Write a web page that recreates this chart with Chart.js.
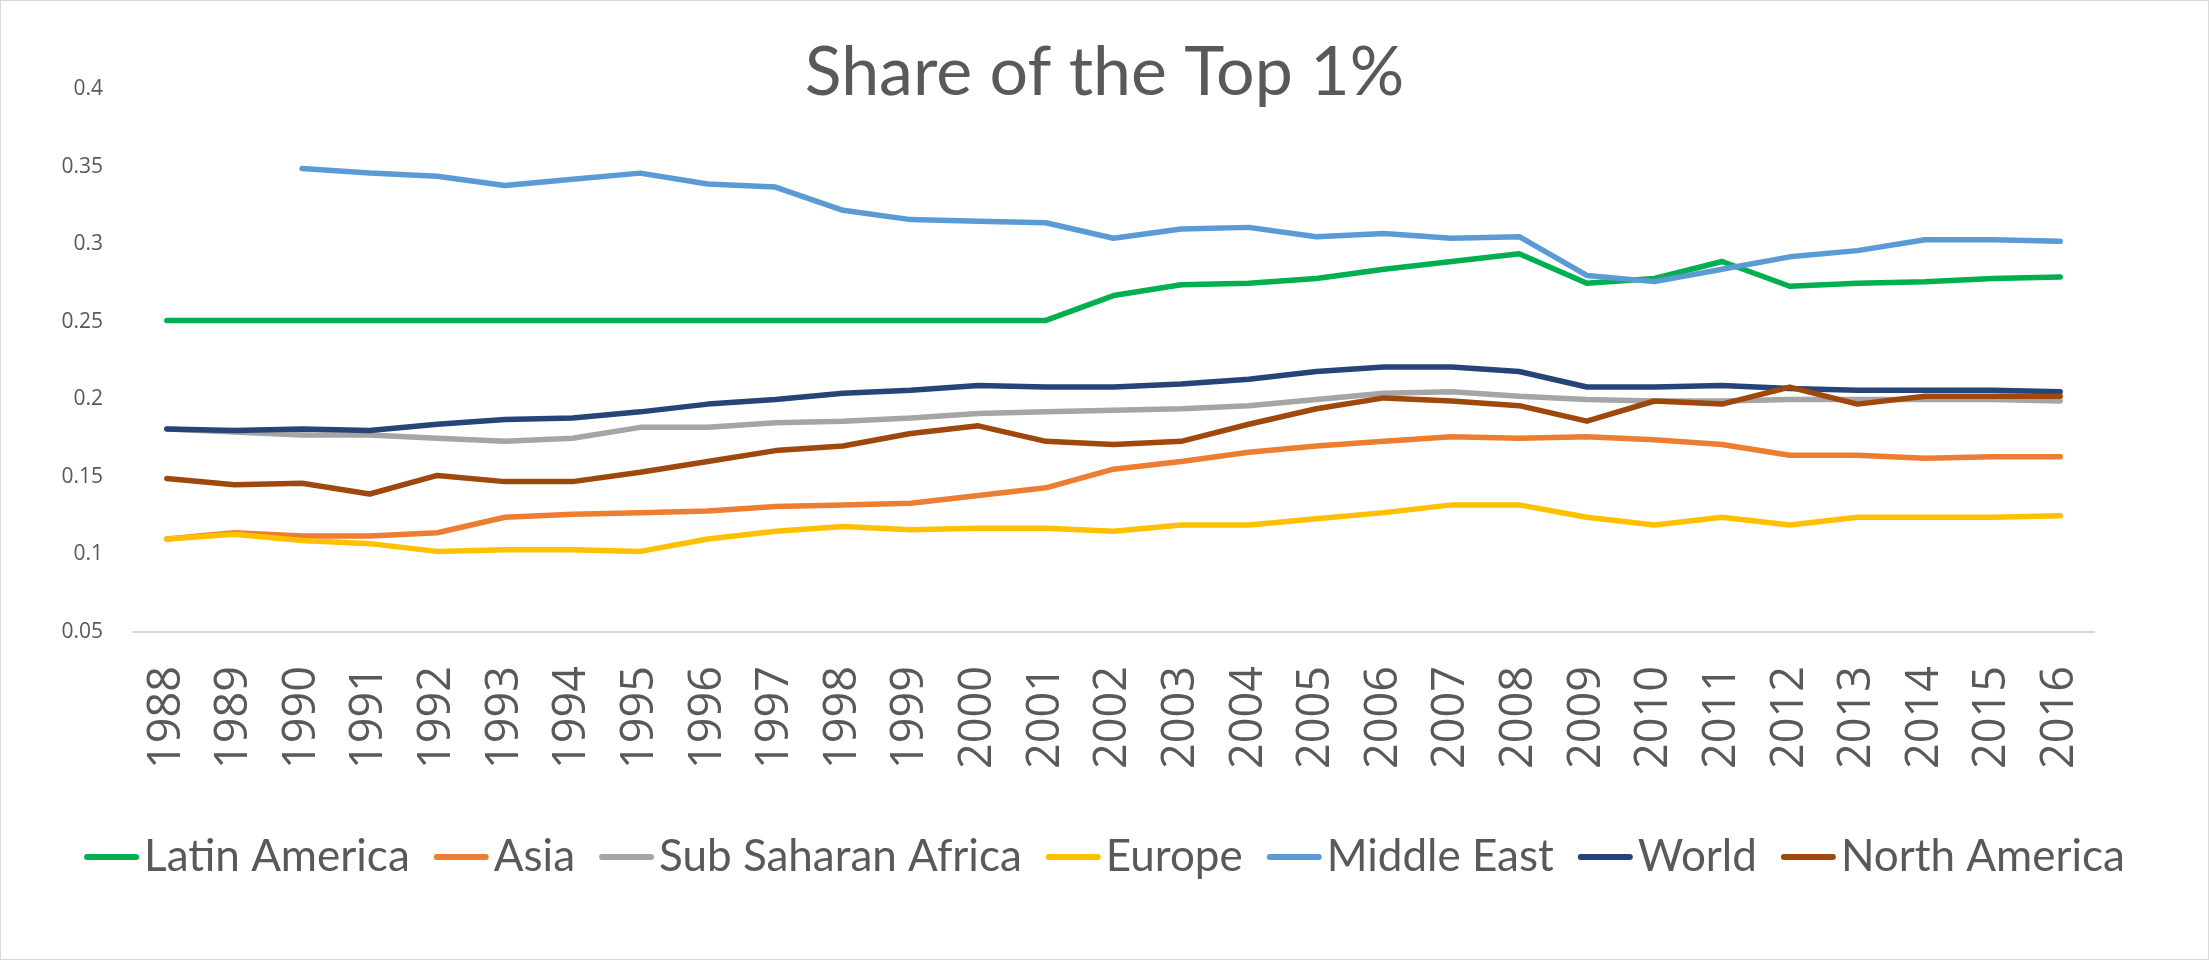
<!DOCTYPE html>
<html>
<head>
<meta charset="utf-8">
<script src="https://cdn.jsdelivr.net/npm/chart.js@4/dist/chart.umd.min.js"></script>
<style>
  html, body { margin: 0; padding: 0; background: #fff; }
  #wrap { position: absolute; left: 0; top: 0; width: 2207px; height: 958px; border: 1px solid #d9d9d9; }
</style>
</head>
<body>
<div id="wrap"><canvas id="chart"></canvas></div>
<script>
const years = ["1988","1989","1990","1991","1992","1993","1994","1995","1996","1997","1998","1999","2000","2001","2002","2003","2004","2005","2006","2007","2008","2009","2010","2011","2012","2013","2014","2015","2016"];

const latinAmerica = [0.251,0.251,0.251,0.251,0.251,0.251,0.251,0.251,0.251,0.251,0.251,0.251,0.251,0.251,0.267,0.274,0.275,0.278,0.284,0.289,0.294,0.275,0.278,0.289,0.273,0.275,0.276,0.278,0.279];
const asia = [0.110,0.114,0.112,0.112,0.114,0.124,0.126,0.127,0.128,0.131,0.132,0.133,0.138,0.143,0.155,0.160,0.166,0.170,0.173,0.176,0.175,0.176,0.174,0.171,0.164,0.164,0.162,0.163,0.163];
const subSaharanAfrica = [0.181,0.179,0.177,0.177,0.175,0.173,0.175,0.182,0.182,0.185,0.186,0.188,0.191,0.192,0.193,0.194,0.196,0.200,0.204,0.205,0.202,0.200,0.199,0.199,0.200,0.200,0.200,0.200,0.199];
const europe = [0.110,0.113,0.109,0.107,0.102,0.103,0.103,0.102,0.110,0.115,0.118,0.116,0.117,0.117,0.115,0.119,0.119,0.123,0.127,0.132,0.132,0.124,0.119,0.124,0.119,0.124,0.124,0.124,0.125];
const middleEast = [null,null,0.349,0.346,0.344,0.338,0.342,0.346,0.339,0.337,0.322,0.316,0.315,0.314,0.304,0.310,0.311,0.305,0.307,0.304,0.305,0.280,0.276,0.284,0.292,0.296,0.303,0.303,0.302];
const world = [0.181,0.180,0.181,0.180,0.184,0.187,0.188,0.192,0.197,0.200,0.204,0.206,0.209,0.208,0.208,0.210,0.213,0.218,0.221,0.221,0.218,0.208,0.208,0.209,0.207,0.206,0.206,0.206,0.205];
const northAmerica = [0.149,0.145,0.146,0.139,0.151,0.147,0.147,0.153,0.160,0.167,0.170,0.178,0.183,0.173,0.171,0.173,0.184,0.194,0.201,0.199,0.196,0.186,0.199,0.197,0.208,0.197,0.202,0.202,0.202];

const seriesNames = ["Latin America","Asia","Sub Saharan Africa","Europe","Middle East","World","North America"];
const seriesData = [latinAmerica, asia, subSaharanAfrica, europe, middleEast, world, northAmerica];
const seriesColors = ["#00b050","#ed7d31","#a5a5a5","#ffc000","#5b9bd5","#264478","#9e480e"];

const textColor = "#595959";

// excel style legend keys: a short line just left of the text
const legendLines = {
    id: "legendLines",
    afterDraw(chart) {
        const legend = chart.legend;
        const ctx = chart.ctx;
        ctx.save();
        ctx.lineWidth = 6;
        ctx.lineCap = "round";
        legend.legendItems.forEach((item, i) => {
            const box = legend.legendHitBoxes[i];
            const y = box.top + box.height / 2;
            ctx.strokeStyle = seriesColors[item.datasetIndex];
            ctx.beginPath();
            ctx.moveTo(box.left + 3, y);
            ctx.lineTo(box.left + 52, y);
            ctx.stroke();
        });
        ctx.restore();
    },
};

new Chart("chart", {
    type: "line",
    data: {
        labels: years,
        datasets: seriesNames.map((name, i) => ({
            label: name,
            data: seriesData[i],
            borderColor: seriesColors[i],
            backgroundColor: seriesColors[i],
            borderWidth: 5.5,
            borderCapStyle: "round",
            borderJoinStyle: "round",
            fill: false,
            tension: 0,
            pointRadius: 0,
            // later series drawn on top, like excel
            order: seriesNames.length - 1 - i,
        })),
    },
    options: {
        responsive: true,
        maintainAspectRatio: false,
        animation: false,
        layout: { padding: { top: 0, left: 0, right: 0, bottom: 70 } },
        plugins: {
            title: {
                display: true,
                text: "Share of the Top 1%",
                color: textColor,
                font: { family: "Lato", size: 68, weight: "normal", lineHeight: 0.55 },
                padding: { top: 53, bottom: -2 },
            },
            legend: {
                display: true,
                position: "bottom",
                labels: {
                    color: textColor,
                    font: { family: "Lato", size: 44 },
                    boxWidth: 38,
                    boxHeight: 6,
                    padding: 24,
                    sort: (a, b) => a.datasetIndex - b.datasetIndex,
                    generateLabels: (chart) =>
                        Chart.defaults.plugins.legend.labels.generateLabels(chart).map((l) => ({
                            ...l, fillStyle: "rgba(0,0,0,0)", strokeStyle: "rgba(0,0,0,0)", lineWidth: 0,
                        })),
                },
            },
            tooltip: { enabled: false },
        },
        scales: {
            x: {
                offset: true,
                grid: { display: false, offset: true },
                border: { display: true, color: "#d9d9d9", width: 2 },
                ticks: {
                    color: textColor,
                    font: { family: "Open Sans", size: 45 },
                    minRotation: 90,
                    maxRotation: 90,
                    autoSkip: false,
                    padding: 26,
                },
                afterFit: (scale) => { scale.height = 179; },
            },
            y: {
                min: 0.05,
                max: 0.4,
                grid: { display: false },
                border: { display: false },
                ticks: {
                    stepSize: 0.05,
                    color: textColor,
                    font: { family: "Open Sans", size: 21 },
                    padding: 22,
                    callback: (v) => Math.round(v * 100) / 100,
                },
                afterFit: (scale) => { scale.width = 132; },
            },
            yRight: {
                position: "right",
                display: true,
                grid: { display: false },
                border: { display: false },
                ticks: { display: false },
                afterFit: (scale) => { scale.width = 114; },
            },
        },
    },
    plugins: [legendLines],
});
</script>
</body>
</html>
